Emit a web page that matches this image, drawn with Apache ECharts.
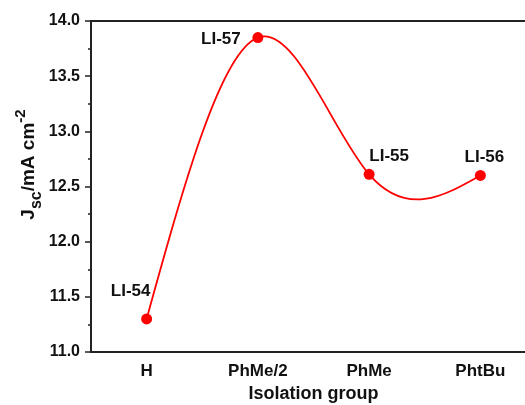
<!DOCTYPE html>
<html>
<head>
<meta charset="utf-8">
<script src="https://cdn.jsdelivr.net/npm/echarts@6/dist/echarts.min.js"></script>
<style>
  html, body { margin: 0; padding: 0; background: #fff; }
  #chart { width: 525px; height: 405px; }
</style>
</head>
<body>
<div id="chart"></div>
<script>
// data
var groups = ['H', 'PhMe/2', 'PhMe', 'PhtBu'];
var jsc = [11.30, 13.85, 12.61, 12.60];
var names = ['LI-54', 'LI-57', 'LI-55', 'LI-56'];
// label offsets from each point (px)
var labelOffsets = [[-16, -28], [-37, 2], [20, -18], [4, -18]];

var font = 'Arial, "Liberation Sans", sans-serif';

var chart = echarts.init(document.getElementById('chart'), null, {renderer: 'canvas'});

var points = [];
for (var i = 0; i < jsc.length; i++) {
  points.push({
    value: [i, jsc[i]],
    label: {
      show: true,
      formatter: names[i],
      position: 'inside',
      offset: labelOffsets[i]
    }
  });
}

// natural cubic spline through the pixel positions of the points,
// drawn as bezier segments (same as the original plot's spline line)
function splinePath(p) {
  var n = p.length;
  var h = [], d = [];
  for (var i = 0; i < n - 1; i++) {
    h.push(p[i + 1][0] - p[i][0]);
    d.push((p[i + 1][1] - p[i][1]) / h[i]);
  }
  // solve for second derivatives (M0 = Mn-1 = 0)
  var M = new Array(n).fill(0);
  var a = [], b = [], c = [], r = [];
  for (var i = 1; i < n - 1; i++) {
    a.push(h[i - 1]);
    b.push(2 * (h[i - 1] + h[i]));
    c.push(h[i]);
    r.push(6 * (d[i] - d[i - 1]));
  }
  var m = r.length;
  for (var i = 1; i < m; i++) {
    var w = a[i] / b[i - 1];
    b[i] -= w * c[i - 1];
    r[i] -= w * r[i - 1];
  }
  var sol = new Array(m);
  for (var i = m - 1; i >= 0; i--) {
    sol[i] = (r[i] - (i < m - 1 ? c[i] * sol[i + 1] : 0)) / b[i];
  }
  for (var i = 0; i < m; i++) M[i + 1] = sol[i];

  var path = 'M' + p[0][0] + ' ' + p[0][1];
  for (var i = 0; i < n - 1; i++) {
    var s0 = d[i] - h[i] * (2 * M[i] + M[i + 1]) / 6;
    var s1 = d[i] + h[i] * (M[i] + 2 * M[i + 1]) / 6;
    var k = h[i] / 3;
    path += ' C' + (p[i][0] + k) + ' ' + (p[i][1] + k * s0) +
            ' ' + (p[i + 1][0] - k) + ' ' + (p[i + 1][1] - k * s1) +
            ' ' + p[i + 1][0] + ' ' + p[i + 1][1];
  }
  return path;
}

var option = {
  animation: false,
  backgroundColor: '#fff',
  grid: {
    left: 91,
    top: 21,
    width: 445,
    height: 331,
    outerBoundsMode: 'none',
    containLabel: false,
    show: true,
    borderColor: '#222',
    borderWidth: 2
  },
  xAxis: [
    {
      type: 'category',
      data: groups,
      boundaryGap: true,
      name: 'Isolation group',
      nameLocation: 'middle',
      nameGap: 32,
      nameTextStyle: {fontFamily: font, fontWeight: 'bold', fontSize: 18, color: '#111'},
      axisLine: {lineStyle: {color: '#222', width: 2}},
      axisTick: {alignWithLabel: true, length: 6, lineStyle: {color: '#222', width: 1.5}},
      axisLabel: {fontFamily: font, fontWeight: 'bold', fontSize: 17, color: '#111', margin: 11},
      splitLine: {show: false}
    },
    {
      // short ticks between the groups
      type: 'category',
      data: groups,
      boundaryGap: true,
      position: 'bottom',
      axisLine: {show: false},
      axisTick: {length: 3, lineStyle: {color: '#222', width: 1.5}},
      axisLabel: {show: false},
      splitLine: {show: false}
    }
  ],
  yAxis: {
    type: 'value',
    min: 11,
    max: 14,
    interval: 0.5,
    name: '{a|J}{b|sc}{a|/mA cm}{c|-2}',
    nameLocation: 'middle',
    nameGap: 46,
    nameMoveOverlap: false,
    nameTextStyle: {
      padding: [0, 0, 0, 44],
      rich: {
        a: {fontFamily: font, fontWeight: 'bold', fontSize: 19, color: '#111', lineHeight: 32},
        b: {fontFamily: font, fontWeight: 'bold', fontSize: 16, color: '#111', verticalAlign: 'bottom', lineHeight: 32},
        c: {fontFamily: font, fontWeight: 'bold', fontSize: 15, color: '#111', verticalAlign: 'top', lineHeight: 32}
      }
    },
    axisLine: {show: true, lineStyle: {color: '#222', width: 2}},
    axisTick: {show: true, length: 6, lineStyle: {color: '#222', width: 1.5}},
    minorTick: {show: true, splitNumber: 2, length: 3, lineStyle: {color: '#222', width: 1.5}},
    axisLabel: {
      fontFamily: font, fontWeight: 'bold', fontSize: 16, color: '#111', margin: 11,
      formatter: function (v) { return v.toFixed(1); }
    },
    splitLine: {show: false}
  },
  series: [
    {
      type: 'custom',
      xAxisIndex: 0,
      z: 1,
      data: [[0, jsc[0]]],
      renderItem: function (params, api) {
        var pts = [];
        for (var i = 0; i < jsc.length; i++) pts.push(api.coord([i, jsc[i]]));
        return {
          type: 'path',
          shape: {pathData: splinePath(pts)},
          style: {fill: null, stroke: '#ff0000', lineWidth: 1.8}
        };
      },
      silent: true
    },
    {
      type: 'scatter',
      xAxisIndex: 0,
      z: 3,
      data: points,
      symbol: 'circle',
      symbolSize: 11,
      itemStyle: {color: '#ff0000', opacity: 1},
      label: {fontFamily: font, fontWeight: 'bold', fontSize: 17, color: '#111'}
    }
  ]
};

chart.setOption(option);
</script>
</body>
</html>
